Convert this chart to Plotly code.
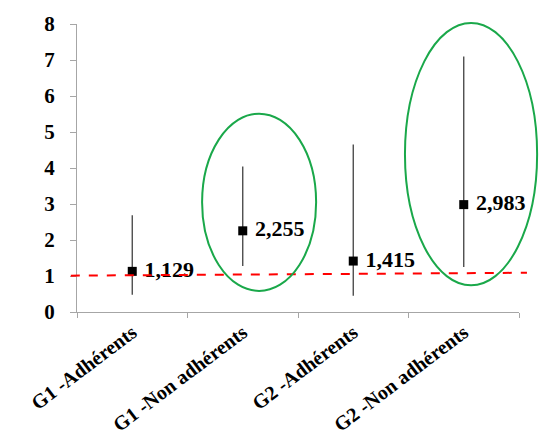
import plotly.graph_objects as go

categories = ["G1 -Adhérents", "G1 -Non adhérents", "G2 -Adhérents", "G2 -Non adhérents"]
odds_ratio = [1.129, 2.255, 1.415, 2.983]
ci_low = [0.48, 1.28, 0.45, 1.25]
ci_high = [2.69, 4.04, 4.65, 7.10]
value_labels = ["1,129", "2,255", "1,415", "2,983"]
y_ticks = [0, 1, 2, 3, 4, 5, 6, 7, 8]
ref_line = [1.01, 1.09]  # reference line (left end, right end)

err_plus = [h - v for h, v in zip(ci_high, odds_ratio)]
err_minus = [v - l for v, l in zip(odds_ratio, ci_low)]

FONT = "Liberation Serif"

fig = go.Figure()
fig.add_trace(go.Scatter(
    x=categories, y=odds_ratio,
    mode="markers+text",
    marker=dict(symbol="square", size=9, color="black"),
    error_y=dict(type="data", symmetric=False, array=err_plus, arrayminus=err_minus,
                 color="#404040", thickness=1.3, width=0),
    text=[" " + t for t in value_labels], textposition="middle right",
    textfont=dict(family=FONT, size=22, color="black", weight="bold"),
    cliponaxis=False, showlegend=False,
))

ymax = y_ticks[-1]
# red dashed reference line
fig.add_shape(type="line", xref="paper", yref="paper",
              x0=-0.014, x1=1.018, y0=ref_line[0] / ymax, y1=ref_line[1] / ymax,
              line=dict(color="#ff0000", width=2, dash="dash"))
# green ellipses
fig.add_shape(type="circle", xref="paper", yref="paper",
              x0=0.283, x1=0.541, y0=0.585 / ymax, y1=5.51 / ymax,
              line=dict(color="#1aa84a", width=2))
fig.add_shape(type="circle", xref="paper", yref="paper",
              x0=0.742, x1=1.041, y0=0.74 / ymax, y1=8.03 / ymax,
              line=dict(color="#1aa84a", width=2))

fig.update_layout(
    width=539, height=433,
    margin=dict(l=69, r=28, t=16, b=129, autoexpand=False),
    paper_bgcolor="white", plot_bgcolor="white",
    font=dict(family=FONT, color="black"),
)
fig.update_xaxes(
    type="category", range=[-0.5, 3.5], automargin=False,
    showline=True, linecolor="#a6a6a6", linewidth=1,
    ticks="outside", tickson="boundaries", ticklen=5, tickcolor="#a6a6a6",
    showgrid=False, tickangle=-37,
    tickfont=dict(family=FONT, size=20, color="black", weight="bold"),
)
fig.update_yaxes(
    range=[0, ymax], tickvals=y_ticks, automargin=False,
    showline=True, linecolor="#a6a6a6", linewidth=1,
    ticks="outside", ticklen=6, tickcolor="#a6a6a6",
    showgrid=False, zeroline=False, ticklabelstandoff=11,
    tickfont=dict(family=FONT, size=21, color="black", weight="bold"),
)
fig.write_html("out.html")
